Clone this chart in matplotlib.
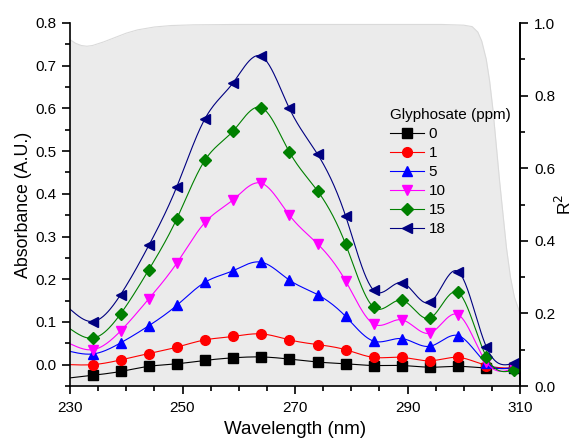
import numpy as np
import matplotlib
matplotlib.use("Agg")
import matplotlib.pyplot as plt
from matplotlib.ticker import MultipleLocator, FixedLocator

plt.rcParams['font.family'] = ['Liberation Sans', 'DejaVu Sans']

# marker positions (nm)
wavelength = [234, 239, 244, 249, 254, 259, 264, 269, 274, 279, 284, 289, 294, 299, 304, 309]

# absorbance for each glyphosate concentration (ppm)
abs_0 = [-0.025, -0.016, -0.004, 0.002, 0.010, 0.016, 0.018, 0.013, 0.006, 0.002, -0.002, -0.002, -0.006, -0.004, -0.008, -0.009]
abs_1 = [0.000, 0.011, 0.026, 0.041, 0.058, 0.066, 0.072, 0.058, 0.047, 0.035, 0.017, 0.017, 0.009, 0.017, -0.002, -0.008]
abs_5 = [0.025, 0.051, 0.091, 0.139, 0.193, 0.220, 0.240, 0.198, 0.164, 0.113, 0.055, 0.061, 0.043, 0.068, 0.004, -0.006]
abs_10 = [0.035, 0.079, 0.154, 0.238, 0.333, 0.386, 0.425, 0.350, 0.283, 0.196, 0.095, 0.105, 0.074, 0.117, 0.006, -0.008]
abs_15 = [0.062, 0.119, 0.222, 0.342, 0.479, 0.547, 0.602, 0.498, 0.407, 0.282, 0.134, 0.151, 0.109, 0.169, 0.019, -0.012]
abs_18 = [0.101, 0.164, 0.279, 0.417, 0.576, 0.660, 0.722, 0.600, 0.493, 0.348, 0.174, 0.192, 0.146, 0.218, 0.042, 0.004]

# where each curve starts at the left edge (230 nm, no marker)
start_230 = [-0.031, 0.000, 0.031, 0.049, 0.084, 0.130]

labels = ['0', '1', '5', '10', '15', '18']
colors = ['black', '#ff0000', '#0000ff', '#ff00ff', '#008000', '#000080']
markers = ['s', 'o', '^', 'v', 'D', '<']
msizes = [6.5, 7, 7.5, 7.5, 6.5, 7.5]

x_ticks = [230, 250, 270, 290, 310]

# R^2 background curve (right axis)
r2_wl = [230, 231, 232, 233, 234, 236, 238, 240, 242, 245, 248, 252, 260, 280, 296, 300,
         301.5, 302.5, 303.2, 304, 304.6, 305.2, 305.8, 306.4, 307, 307.6, 308.3, 309, 310]
r2_val = [0.954, 0.944, 0.938, 0.936, 0.938, 0.948, 0.960, 0.972, 0.981, 0.989, 0.993, 0.995, 0.996, 0.996, 0.996, 0.994,
          0.990, 0.975, 0.950, 0.900, 0.840, 0.760, 0.660, 0.560, 0.470, 0.380, 0.300, 0.245, 0.200]


def natural_spline(x, y, xs):
    x = np.asarray(x, float)
    y = np.asarray(y, float)
    n = len(x)
    h = np.diff(x)
    A = np.zeros((n, n))
    b = np.zeros(n)
    A[0, 0] = 1
    A[-1, -1] = 1
    for i in range(1, n - 1):
        A[i, i - 1] = h[i - 1]
        A[i, i] = 2 * (h[i - 1] + h[i])
        A[i, i + 1] = h[i]
        b[i] = 6 * ((y[i + 1] - y[i]) / h[i] - (y[i] - y[i - 1]) / h[i - 1])
    M = np.linalg.solve(A, b)
    k = np.clip(np.searchsorted(x, xs) - 1, 0, n - 2)
    t0 = x[k + 1] - xs
    t1 = xs - x[k]
    hk = h[k]
    return (M[k] * t0 ** 3 / (6 * hk) + M[k + 1] * t1 ** 3 / (6 * hk)
            + (y[k] / hk - M[k] * hk / 6) * t0 + (y[k + 1] / hk - M[k + 1] * hk / 6) * t1)


fig = plt.figure(figsize=(5.74, 4.43), dpi=100)
ax = fig.add_axes([70 / 574, 57 / 443, 450 / 574, 363 / 443])
ax2 = ax.twinx()

ax2.fill_between(r2_wl, 0, r2_val, color='#ebebeb', lw=0)
ax2.plot(r2_wl, r2_val, color='#dadada', lw=0.8)
ax2.set_ylim(0, 1.0)

ax.set_zorder(ax2.get_zorder() + 1)
ax.patch.set_visible(False)

all_series = [abs_0, abs_1, abs_5, abs_10, abs_15, abs_18]
xs = np.linspace(230, 309, 400)
for vals, s0, lab, c, m, ms in zip(all_series, start_230, labels, colors, markers, msizes):
    xx = [230] + wavelength
    yy = [s0] + vals
    ax.plot(xs, natural_spline(xx, yy, xs), color=c, lw=0.8)
    ax.plot(wavelength, vals, ls='none', marker=m, color=c, ms=ms)
    ax.plot([], [], color=c, lw=0.8, marker=m, ms=ms, label=lab)

ax.set_xlim(230, 310)
ax.set_ylim(-0.05, 0.8)
ax.xaxis.set_major_locator(FixedLocator(x_ticks))
ax.xaxis.set_minor_locator(MultipleLocator(5))
ax.yaxis.set_major_locator(MultipleLocator(0.1))
ax.yaxis.set_minor_locator(MultipleLocator(0.05))
ax.yaxis.set_major_formatter(plt.FormatStrFormatter('%.1f'))
ax2.yaxis.set_major_locator(MultipleLocator(0.2))
ax2.yaxis.set_minor_locator(MultipleLocator(0.1))
ax2.yaxis.set_major_formatter(plt.FormatStrFormatter('%.1f'))

for a in (ax, ax2):
    a.spines['top'].set_visible(False)
    for s in a.spines.values():
        s.set_linewidth(1.2)
    a.tick_params(which='major', length=6, width=1.2, labelsize=11, direction='out', pad=4)
    a.tick_params(which='minor', length=3.5, width=1.2, direction='out')
ax.tick_params(axis='x', which='major', pad=5)
ax2.spines['left'].set_visible(False)
ax2.spines['bottom'].set_visible(False)

ax.set_xlabel('Wavelength (nm)', fontsize=13.5, labelpad=4)
ax.set_ylabel('Absorbance (A.U.)', fontsize=12.8, labelpad=2)
ax2.set_ylabel('R$^2$', fontsize=12.5, labelpad=-1)

leg = ax.legend(title='Glyphosate (ppm)', loc='upper left', bbox_to_anchor=(0.695, 0.787),
                frameon=False, fontsize=11, title_fontsize=11, alignment='left',
                labelspacing=0.33, handlelength=2.2, handletextpad=0.3, borderpad=0)

fig.savefig('out.png', dpi=100)
